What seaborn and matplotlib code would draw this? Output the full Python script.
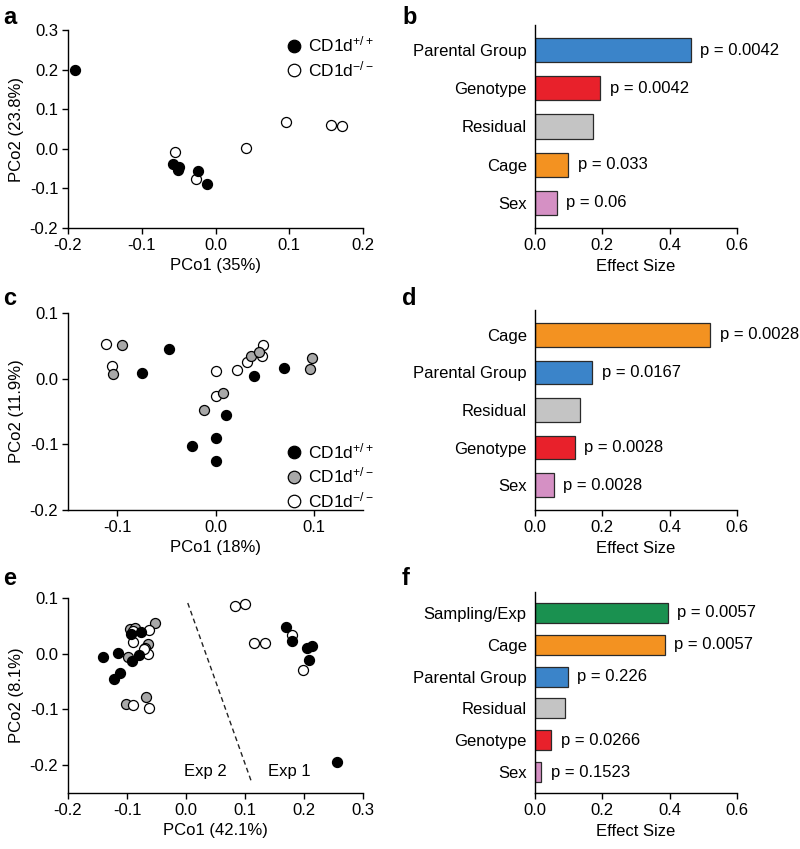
import numpy as np
import pandas as pd
import matplotlib
matplotlib.use("Agg")
import matplotlib.pyplot as plt
from matplotlib.lines import Line2D
import seaborn as sns

# ---------------- data ----------------
# Panel a
a_wt_x = [-0.190, -0.058, -0.050, -0.051, -0.024, -0.012]
a_wt_y = [0.200, -0.039, -0.045, -0.053, -0.057, -0.089]
a_ko_x = [-0.055, -0.026, 0.041, 0.096, 0.156, 0.171]
a_ko_y = [-0.007, -0.076, 0.001, 0.067, 0.061, 0.057]

# Panel c
c_wt_x = [-0.047, -0.075, 0.039, 0.070, 0.011, -0.024, 0.001, 0.001]
c_wt_y = [0.045, 0.008, 0.004, 0.017, -0.055, -0.102, -0.091, -0.126]
c_het_x = [-0.095, -0.104, -0.012, 0.008, 0.036, 0.044, 0.098, 0.096]
c_het_y = [0.051, 0.007, -0.047, -0.022, 0.035, 0.040, 0.032, 0.015]
c_ko_x = [-0.111, -0.105, 0.001, 0.000, 0.022, 0.032, 0.048, 0.047]
c_ko_y = [0.053, 0.020, 0.011, -0.026, 0.013, 0.025, 0.052, 0.034]

# Panel e
e_wt_x = [-0.140, -0.116, -0.112, -0.122, -0.093, -0.076, -0.092, -0.079,
          0.169, 0.179, 0.205, 0.213, 0.209, 0.256]
e_wt_y = [-0.006, 0.002, -0.034, -0.046, 0.036, 0.039, -0.013, -0.002,
          0.048, 0.023, 0.010, 0.013, -0.012, -0.194]
e_het_x = [-0.053, -0.095, -0.086, -0.065, -0.069, -0.098, -0.101, -0.068]
e_het_y = [0.055, 0.044, 0.046, 0.018, 0.010, -0.005, -0.091, -0.077]
e_ko_x = [-0.089, -0.062, -0.090, -0.064, -0.072, -0.090, -0.062,
          0.083, 0.100, 0.115, 0.134, 0.180, 0.198]
e_ko_y = [0.041, 0.043, 0.021, 0.000, 0.008, -0.092, -0.098,
          0.086, 0.090, 0.020, 0.020, 0.033, -0.030]

# Panel b
b_cats = ["Parental Group", "Genotype", "Residual", "Cage", "Sex"]
b_vals = [0.463, 0.194, 0.173, 0.099, 0.064]
b_p = ["p = 0.0042", "p = 0.0042", "", "p = 0.033", "p = 0.06"]

# Panel d
d_cats = ["Cage", "Parental Group", "Residual", "Genotype", "Sex"]
d_vals = [0.521, 0.170, 0.135, 0.118, 0.056]
d_p = ["p = 0.0028", "p = 0.0167", "", "p = 0.0028", "p = 0.0028"]

# Panel f
f_cats = ["Sampling/Exp", "Cage", "Parental Group", "Residual", "Genotype", "Sex"]
f_vals = [0.394, 0.385, 0.098, 0.090, 0.048, 0.019]
f_p = ["p = 0.0057", "p = 0.0057", "p = 0.226", "", "p = 0.0266", "p = 0.1523"]

cat_colors = {
    "Parental Group": "#3b84c9",
    "Genotype": "#e8212b",
    "Residual": "#c4c4c4",
    "Cage": "#f39221",
    "Sex": "#d590c4",
    "Sampling/Exp": "#1a9150",
}

# ---------------- style ----------------
sns.set_theme(style="ticks")
plt.rcParams["font.family"] = ["Liberation Sans", "DejaVu Sans"]
plt.rcParams["mathtext.fontset"] = "custom"
plt.rcParams["mathtext.rm"] = "Liberation Sans"
plt.rcParams["mathtext.it"] = "Liberation Sans"
plt.rcParams["mathtext.bf"] = "Liberation Sans:bold"
plt.rcParams["axes.unicode_minus"] = False
for k in ["text.color", "axes.labelcolor", "xtick.color", "ytick.color",
          "axes.edgecolor"]:
    plt.rcParams[k] = "black"
plt.rcParams["axes.linewidth"] = 1.0
plt.rcParams["xtick.major.width"] = 1.0
plt.rcParams["ytick.major.width"] = 1.0
plt.rcParams["xtick.major.size"] = 4
plt.rcParams["ytick.major.size"] = 4

FS = 12
fig = plt.figure(figsize=(8.0, 8.49), dpi=100)

def px(l, t, r, b):
    W, H = 800.0, 849.0
    return [l / W, 1 - b / H, (r - l) / W, (b - t) / H]

ax_a = fig.add_axes(px(68, 30, 363, 228))
ax_b = fig.add_axes(px(535, 25, 737, 228))
ax_c = fig.add_axes(px(68, 313, 363, 510))
ax_d = fig.add_axes(px(535, 310, 737, 510))
ax_e = fig.add_axes(px(68, 598, 363, 793))
ax_f = fig.add_axes(px(535, 592, 737, 793))

GT_COL = {"wt": "black", "het": "#a8a8a8", "ko": "white"}
LBL = {"wt": r"CD1d$^{+/+}$", "het": r"CD1d$^{+/-}$", "ko": r"CD1d$^{-/-}$"}
MS = 52

def scatter_panel(ax, groups, order):
    rows = []
    for g, (xs, ys) in groups.items():
        for x, y in zip(xs, ys):
            rows.append({"x": x, "y": y, "g": g})
    df = pd.DataFrame(rows)
    for g in order:
        sub = df[df.g == g]
        sns.scatterplot(data=sub, x="x", y="y", ax=ax, color=GT_COL[g],
                        edgecolor="black", linewidth=0.9, s=MS, legend=False,
                        zorder=3)
    sns.despine(ax=ax)
    ax.tick_params(labelsize=FS, direction="out", pad=3)

def fmt_ticks(ax, xt, yt):
    ax.set_xticks(xt)
    ax.set_xticklabels([f"{v:.1f}" for v in xt])
    ax.set_yticks(yt)
    ax.set_yticklabels([f"{v:.1f}" for v in yt])

def leg(ax, keys, loc, bbox):
    handles = [Line2D([], [], marker="o", linestyle="", markersize=9,
                      markerfacecolor=GT_COL[k], markeredgecolor="black",
                      markeredgewidth=0.9, label=LBL[k]) for k in keys]
    ax.legend(handles=handles, loc=loc, bbox_to_anchor=bbox, frameon=False,
              fontsize=FS + 0.5, handlelength=1.0, handletextpad=0.35,
              labelspacing=0.25, borderaxespad=0.0, borderpad=0.0)

# Panel a
scatter_panel(ax_a, {"wt": (a_wt_x, a_wt_y), "ko": (a_ko_x, a_ko_y)}, ["ko", "wt"])
ax_a.set_xlim(-0.2, 0.2)
ax_a.set_ylim(-0.2, 0.3)
fmt_ticks(ax_a, [-0.2, -0.1, 0.0, 0.1, 0.2], [-0.2, -0.1, 0.0, 0.1, 0.2, 0.3])
ax_a.set_xlabel("PCo1 (35%)", fontsize=FS)
ax_a.set_ylabel("PCo2 (23.8%)", fontsize=FS)
leg(ax_a, ["wt", "ko"], "upper left", (0.735, 0.975))

# Panel c
scatter_panel(ax_c, {"wt": (c_wt_x, c_wt_y), "het": (c_het_x, c_het_y),
                     "ko": (c_ko_x, c_ko_y)}, ["ko", "het", "wt"])
ax_c.set_xlim(-0.15, 0.15)
ax_c.set_ylim(-0.2, 0.1)
fmt_ticks(ax_c, [-0.1, 0.0, 0.1], [-0.2, -0.1, 0.0, 0.1])
ax_c.set_xlabel("PCo1 (18%)", fontsize=FS)
ax_c.set_ylabel("PCo2 (11.9%)", fontsize=FS)
leg(ax_c, ["wt", "het", "ko"], "lower left", (0.735, 0.0))

# Panel e
scatter_panel(ax_e, {"wt": (e_wt_x, e_wt_y), "het": (e_het_x, e_het_y),
                     "ko": (e_ko_x, e_ko_y)}, ["het", "ko", "wt"])
ax_e.set_xlim(-0.2, 0.3)
ax_e.set_ylim(-0.25, 0.1)
fmt_ticks(ax_e, [-0.2, -0.1, 0.0, 0.1, 0.2, 0.3], [-0.2, -0.1, 0.0, 0.1])
ax_e.spines["left"].set_bounds(-0.25, 0.1)
ax_e.set_xlabel("PCo1 (42.1%)", fontsize=FS)
ax_e.set_ylabel("PCo2 (8.1%)", fontsize=FS)
ax_e.plot([0.003, 0.112], [0.091, -0.233], linestyle=(0, (3.5, 2.5)),
          color="#222222", linewidth=1.0, zorder=2)
ax_e.text(0.032, -0.212, "Exp 2", ha="center", va="center", fontsize=FS)
ax_e.text(0.175, -0.212, "Exp 1", ha="center", va="center", fontsize=FS)

# Bar panels
def bar_panel(ax, cats, vals, ps):
    df = pd.DataFrame({"cat": cats, "val": vals})
    sns.barplot(data=df, x="val", y="cat", hue="cat", order=cats,
                palette=[cat_colors[c] for c in cats], legend=False,
                orient="h", width=0.63, saturation=1, edgecolor="#2a2a2a",
                linewidth=0.9, ax=ax)
    for i, (v, p) in enumerate(zip(vals, ps)):
        if p:
            ax.text(v + 0.028, i, p, ha="left", va="center", fontsize=FS)
    n = len(cats)
    ax.set_xlim(0, 0.6)
    ax.set_ylim(n - 1 + 0.66, -0.66)
    ax.set_xticks([0.0, 0.2, 0.4, 0.6])
    ax.set_xticklabels(["0.0", "0.2", "0.4", "0.6"])
    ax.set_xlabel("Effect Size", fontsize=FS)
    ax.set_ylabel("")
    sns.despine(ax=ax)
    ax.tick_params(axis="y", length=0, labelsize=FS, pad=6)
    ax.tick_params(axis="x", labelsize=FS, direction="out")

bar_panel(ax_b, b_cats, b_vals, b_p)
bar_panel(ax_d, d_cats, d_vals, d_p)
bar_panel(ax_f, f_cats, f_vals, f_p)

# Panel letters
for lab, (x, y) in {"a": (3, 24), "b": (402, 24), "c": (3, 305),
                    "d": (402, 305), "e": (3, 585),
                    "f": (402, 585)}.items():
    fig.text(x / 800.0, 1 - y / 849.0, lab, fontsize=17, fontweight="bold",
             ha="left", va="baseline")

fig.savefig("out.png", dpi=100)
